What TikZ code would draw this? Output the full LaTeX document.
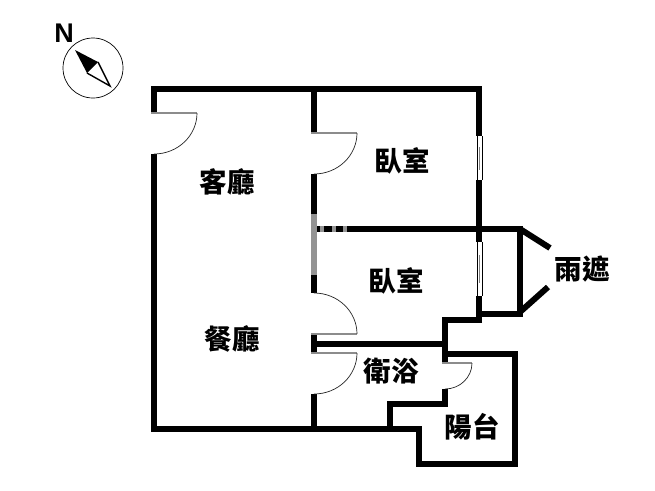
\documentclass[tikz,border=0pt]{standalone}
\usepackage{fontspec}
\newfontfamily\cjk{Noto Sans CJK TC}
\setsansfont{Liberation Sans}
\tikzset{
  wall/.style={line width=6pt,line cap=butt,line join=miter,black},
  leaf/.style={line width=1.2pt,gray!90},
  swing/.style={line width=0.7pt,black!85},
  room/.style={font=\cjk\bfseries\fontsize{27.5}{27.5}\selectfont,inner sep=0pt},
  glass/.style={line width=0.8pt,black},
  pane/.style={line width=1.2pt,gray},
  graywall/.style={line width=6pt,gray!85}
}
\begin{document}
\begin{tikzpicture}[x=1pt,y=-1pt]
\useasboundingbox (0,0) rectangle (655,490);
\fill[white] (0,0) rectangle (655,490);
% outer walls
\draw[wall] (154,113) -- (154,89) -- (479,89) -- (479,136);
\draw[wall] (154,154) -- (154,429) -- (419,429) -- (419,464) -- (514.5,464) -- (514.5,354) -- (445,354);
% partition wall
\draw[wall] (314,89) -- (314,133);
\draw[wall] (314,174) -- (314,214);
\draw[graywall] (314,214) -- (314,275);
\draw[wall] (314,275) -- (314,293);
\draw[wall] (314,334) -- (314,353);
\draw[wall] (314,394) -- (314,429);
% bedroom divider
\draw[wall] (317,229) -- (520,229);
\draw[graywall] (320,229) -- (324,229) (332,229) -- (336,229) (343,229) -- (347,229);
\draw[wall] (479,180) -- (479,242);
\draw[wall] (479,296) -- (479,317);
% awning
\draw[wall] (520,226) -- (520,317);
\draw[wall] (476,314) -- (523,314);
\draw[wall] (520,229) -- (550,248);
\draw[wall] (520,312) -- (548,287);
% windows
\draw[glass] (477,136) -- (477,180) (482,136) -- (482,180);
\draw[pane] (479.5,147) -- (479.5,170);
\draw[glass] (477,242) -- (477,296) (482,242) -- (482,296);
\draw[pane] (479.5,255) -- (479.5,283);
% bathroom and balcony
\draw[wall] (482,320) -- (444.5,320) -- (444.5,363);
\draw[wall] (444.5,389) -- (444.5,404) -- (390,404) -- (390,429);
\draw[wall] (317,344) -- (447,344);
% doors
\draw[leaf] (151,113) -- (197,113);
\draw[swing] (197,113) arc[start angle=0,end angle=90,x radius=43,y radius=41];
\draw[leaf] (311,133) -- (357,133);
\draw[swing] (357,133) arc[start angle=0,end angle=90,x radius=43,y radius=41];
\draw[leaf] (311,334) -- (357,334);
\draw[swing] (357,334) arc[start angle=0,end angle=-90,x radius=43,y radius=41];
\draw[leaf] (311,353) -- (357,353);
\draw[swing] (357,353) arc[start angle=0,end angle=90,x radius=43,y radius=41];
\draw[leaf] (442,363) -- (472,363);
\draw[swing] (472,363) arc[start angle=0,end angle=90,x radius=27,y radius=26];
% compass
\node[font=\sffamily\bfseries\fontsize{27}{27}\selectfont,inner sep=0pt] (north) at (64,33) {N};
\draw[line width=0.7pt] (93,68) circle[radius=30];
\draw[line width=1.4pt,fill=white,line join=miter] (98,62) -- (110,86) -- (87,73);
\fill (75,50) -- (98,62) -- (87,73) -- cycle;
% labels
\node[room] (keting) at (227,182) {客廳};
\node[room] (woshi1) at (402,161) {臥室};
\node[room] (woshi2) at (396,281) {臥室};
\node[room] (canting) at (232,339) {餐廳};
\node[room] (weiyu) at (391,371) {衛浴};
\node[room] (yangtai) at (472,427) {陽台};
\node[room] (yuzhe) at (582,269) {雨遮};
\end{tikzpicture}
\end{document}
